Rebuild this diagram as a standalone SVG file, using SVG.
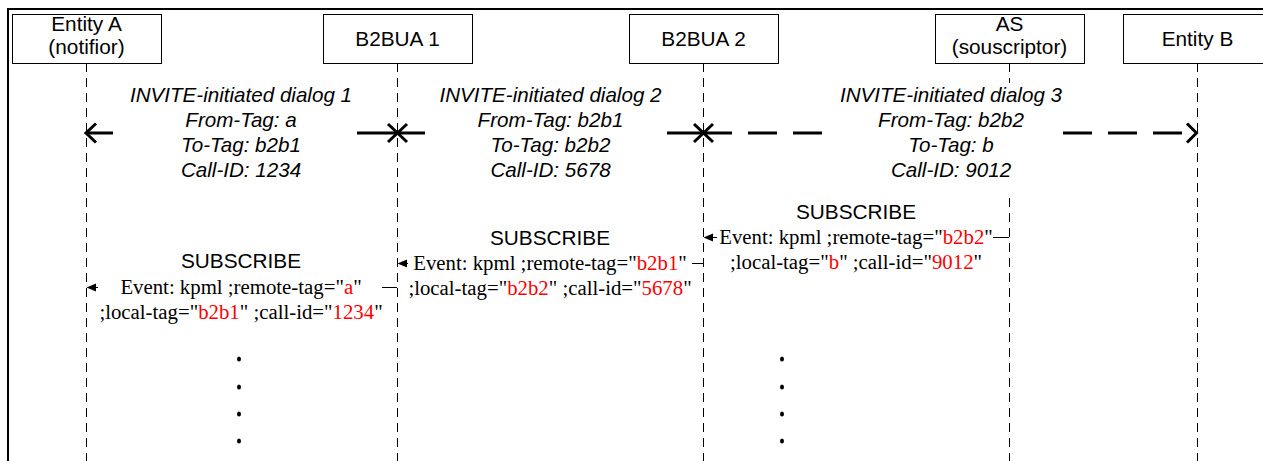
<svg xmlns="http://www.w3.org/2000/svg" width="1263" height="461" viewBox="0 0 1263 461">
<style>
.box{fill:#fff;stroke:#000;stroke-width:1}
.life{stroke:#000;stroke-width:1;stroke-dasharray:9 6;fill:none}
.lbl{font-family:"Liberation Sans",Arial,sans-serif;font-size:20.8px;fill:#000;text-anchor:middle}
.dlg{font-family:"Liberation Sans",Arial,sans-serif;font-size:20.6px;font-style:italic;fill:#000;text-anchor:middle}
.msg{font-family:"Liberation Serif","Times New Roman",serif;font-size:20.8px;fill:#000;text-anchor:middle}
.r{fill:#ff0000}
.thick{stroke:#000;stroke-width:3;fill:none;stroke-linecap:butt}
.thin{stroke:#000;stroke-width:1;fill:none}
.bg{fill:#fff;stroke:none}
.head{fill:#000;stroke:none}
</style>
<rect x="0" y="0" width="1263" height="461" fill="#fff"/>
<path d="M8,461 V9 H1263" fill="none" stroke="#000" stroke-width="2"/>
<g id="lifelines">
<line class="life" x1="86.5" y1="63" x2="86.5" y2="461"/>
<line class="life" x1="397.5" y1="63" x2="397.5" y2="461"/>
<line class="life" x1="703.5" y1="63" x2="703.5" y2="461"/>
<line class="life" x1="1009.5" y1="63" x2="1009.5" y2="461"/>
<line class="life" x1="1197.5" y1="63" x2="1197.5" y2="461"/>
</g>
<g id="entityA">
<rect class="box" x="12.5" y="14.5" width="149" height="49"/>
<text class="lbl" x="86.5" y="31">Entity A</text>
<text class="lbl" x="86.5" y="54">(notifior)</text>
</g>
<g id="b2bua1">
<rect class="box" x="323.5" y="14.5" width="149" height="49"/>
<text class="lbl" x="397.5" y="46">B2BUA 1</text>
</g>
<g id="b2bua2">
<rect class="box" x="629.5" y="14.5" width="149" height="49"/>
<text class="lbl" x="703.5" y="46">B2BUA 2</text>
</g>
<g id="as">
<rect class="box" x="935.5" y="14.5" width="149" height="49"/>
<text class="lbl" x="1009.5" y="31">AS</text>
<text class="lbl" x="1009.5" y="54">(souscriptor)</text>
</g>
<g id="entityB">
<rect class="box" x="1123.5" y="14.5" width="149" height="49"/>
<text class="lbl" x="1197.5" y="46">Entity B</text>
</g>
<g id="connectors">
<!-- dialog 1 -->
<line class="thick" x1="397" y1="133" x2="87" y2="133"/>
<polyline class="thick" points="96,123.5 86,133 96,142.5"/>
<!-- dialog 2 -->
<line class="thick" x1="703" y1="133" x2="398" y2="133"/>
<!-- dialog 3 -->
<line class="thick" x1="703" y1="133" x2="1197" y2="133" stroke-dasharray="29 16"/>
<polyline class="thick" points="1187,123.5 1196.5,133 1187,142.5"/>
<!-- X marks -->
<path class="thick" d="M388,124 L407,142 M388,142 L407,124"/>
<path class="thick" d="M694,124 L713,142 M694,142 L713,124"/>
<!-- dialog labels -->
<rect class="bg" x="113" y="84" width="244" height="106"/>
<text class="dlg" x="241" y="102">INVITE-initiated dialog 1</text>
<text class="dlg" x="241" y="127">From-Tag: a</text>
<text class="dlg" x="241" y="152">To-Tag: b2b1</text>
<text class="dlg" x="241" y="177">Call-ID: 1234</text>
<rect class="bg" x="425" y="84" width="242" height="106"/>
<text class="dlg" x="550.5" y="102">INVITE-initiated dialog 2</text>
<text class="dlg" x="550.5" y="127">From-Tag: b2b1</text>
<text class="dlg" x="550.5" y="152">To-Tag: b2b2</text>
<text class="dlg" x="550.5" y="177">Call-ID: 5678</text>
<rect class="bg" x="823" y="83" width="240" height="110"/>
<text class="dlg" x="951" y="102">INVITE-initiated dialog 3</text>
<text class="dlg" x="951" y="127">From-Tag: b2b2</text>
<text class="dlg" x="951" y="152">To-Tag: b</text>
<text class="dlg" x="951" y="177">Call-ID: 9012</text>
<!-- SUBSCRIBE 1 -->
<line class="thin" x1="397" y1="287.5" x2="90" y2="287.5"/>
<polygon class="head" points="86.5,287.5 96,283.5 96,291.5"/>
<rect class="bg" x="98" y="277" width="284" height="21"/>
<text class="lbl" x="241" y="268">SUBSCRIBE</text>
<text class="msg" x="241" y="294">Event: kpml ;remote-tag="<tspan class="r">a</tspan>"</text>
<text class="msg" x="241" y="319">;local-tag="<tspan class="r">b2b1</tspan>" ;call-id="<tspan class="r">1234</tspan>"</text>
<!-- SUBSCRIBE 2 -->
<line class="thin" x1="703" y1="263.5" x2="401" y2="263.5"/>
<polygon class="head" points="397.5,263.5 407,259.5 407,267.5"/>
<rect class="bg" x="408" y="253" width="284" height="21"/>
<text class="lbl" x="550" y="245">SUBSCRIBE</text>
<text class="msg" x="550" y="270">Event: kpml ;remote-tag="<tspan class="r">b2b1</tspan>"</text>
<text class="msg" x="550" y="295">;local-tag="<tspan class="r">b2b2</tspan>" ;call-id="<tspan class="r">5678</tspan>"</text>
<!-- SUBSCRIBE 3 -->
<line class="thin" x1="1009" y1="237.5" x2="707" y2="237.5"/>
<polygon class="head" points="703.5,237.5 713,233.5 713,241.5"/>
<rect class="bg" x="717" y="227" width="276" height="21"/>
<text class="lbl" x="856" y="219">SUBSCRIBE</text>
<text class="msg" x="856" y="244">Event: kpml ;remote-tag="<tspan class="r">b2b2</tspan>"</text>
<text class="msg" x="856" y="269">;local-tag="<tspan class="r">b</tspan>" ;call-id="<tspan class="r">9012</tspan>"</text>
</g>
<g id="continuation">
<ellipse cx="239" cy="359" rx="2" ry="2.5"/>
<ellipse cx="239" cy="387" rx="2" ry="2.5"/>
<ellipse cx="239" cy="414" rx="2" ry="2.5"/>
<ellipse cx="239" cy="441" rx="2" ry="2.5"/>
<ellipse cx="782" cy="359" rx="2" ry="2.5"/>
<ellipse cx="782" cy="387" rx="2" ry="2.5"/>
<ellipse cx="782" cy="414" rx="2" ry="2.5"/>
<ellipse cx="782" cy="441" rx="2" ry="2.5"/>
</g>
</svg>
